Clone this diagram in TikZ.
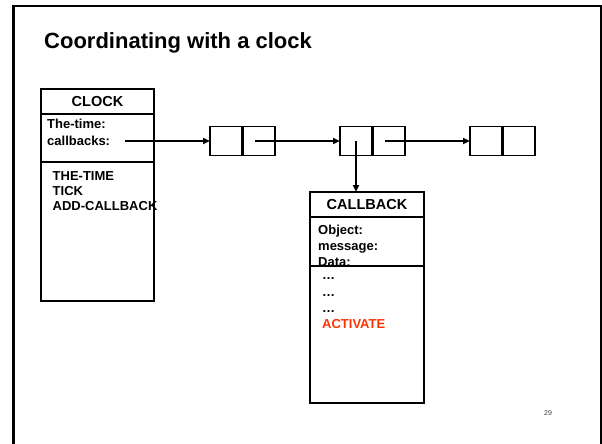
\documentclass[tikz,border=0pt]{standalone}
\usepackage{fontspec}
\setmainfont{Liberation Sans}
\usetikzlibrary{arrows.meta,positioning}

\definecolor{actred}{RGB}{255,51,0}

\begin{document}
\begin{tikzpicture}[x=1pt, y=-1pt,
            box/.style={draw, line width=1.6pt, outer sep=0pt, inner sep=0pt},
            head/.style={box, minimum height=25pt, font=\bfseries\fontsize{14.5}{17}\selectfont},
            cell/.style={box, minimum width=32pt, minimum height=29pt},
            txt/.style={inner sep=0pt, align=left, font=\bfseries\fontsize{13}{16}\selectfont},
            ptr/.style={-{Triangle[length=7pt,width=6pt]}, line width=1.8pt}]
            \useasboundingbox (0,0) rectangle (602,444);

            % slide frame
            \draw[line width=2pt] (13.5,6) -- (601,6) -- (601,444);
            \draw[line width=3pt] (13.5,444) -- (13.5,5);

            \node[anchor=base west, inner sep=0pt, font=\bfseries\fontsize{22}{26}\selectfont]
                (title) at (44,48.7) {Coordinating with a clock};

            % the clock object
            \node[head, minimum width=113pt] (clk) at (97.5,101.5) {CLOCK};
            \node[box, minimum width=113pt, minimum height=48pt, below=0pt of clk] (clkf) {};
            \node[box, minimum width=113pt, minimum height=139pt, below=0pt of clkf] (clkm) {};
            \node[txt, font=\bfseries\fontsize{13}{16.5}\selectfont,
                  below right=5pt and 6pt of clkf.north west] (clkftxt) {The-time:\\callbacks:};
            \node[txt, font=\bfseries\fontsize{13}{15}\selectfont,
                  below right=9pt and 11.5pt of clkm.north west] (clkmtxt) {THE-TIME\\TICK\\ADD-CALLBACK};
            \coordinate (cbk) at (125,141);

            % list of callbacks
            \node[cell] (c1a) at (226,141) {};
            \node[cell, right=1pt of c1a]  (c1b) {};
            \node[cell, right=65pt of c1b] (c2a) {};
            \node[cell, right=1pt of c2a]  (c2b) {};
            \node[cell, right=65pt of c2b] (c3a) {};
            \node[cell, right=1pt of c3a]  (c3b) {};

            % the callback object
            \node[head, minimum width=114pt] (cb) at (367,204.5) {CALLBACK};
            \node[box, minimum width=114pt, minimum height=49pt, below=0pt of cb] (cbf) {};
            \node[box, minimum width=114pt, minimum height=137pt, below=0pt of cbf] (cbm) {};
            \node[txt, below right=8pt and 8pt of cbf.north west] (cbftxt) {Object:\\message:\\Data:};
            \node[txt, font=\bfseries\fontsize{13}{16.3}\selectfont,
                  below right=4.7pt and 12pt of cbm.north west] (cbmtxt)
                  {\vphantom{A}…\\…\\…\\\textcolor{actred}{ACTIVATE}};

            \draw[ptr] (cbk) -- (c1a.west);
            \draw[ptr] ([xshift=-4pt]c1b.center) -- (c2a.west);
            \draw[ptr] ([xshift=-4pt]c2b.center) -- (c3a.west);
            \draw[ptr] (c2a.center) -- (c2a.center |- cb.north);

            \node[inner sep=0pt, text=black!75, font=\fontsize{7}{8}\selectfont] (pg) at (548,413.5) {29};
        \end{tikzpicture}
\end{document}
